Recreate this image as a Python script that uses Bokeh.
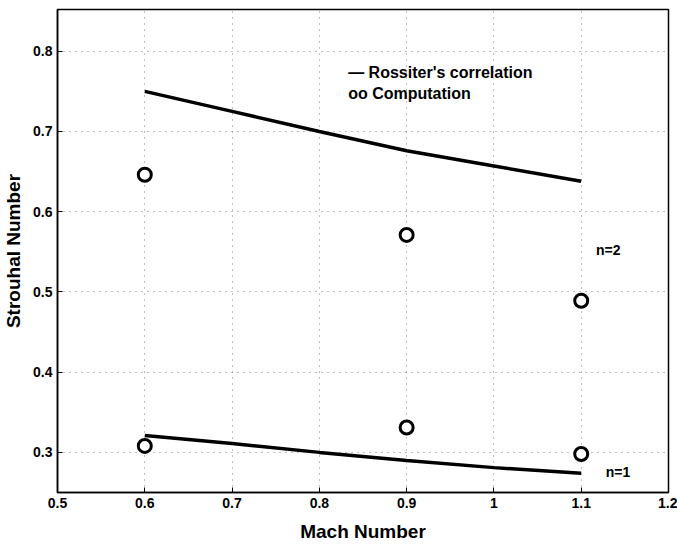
from bokeh.plotting import figure
from bokeh.models import Range1d, FixedTicker
from bokeh.core.properties import value
from bokeh.embed import file_html
from bokeh.resources import INLINE

# Rossiter's correlation
mach_line = [0.6, 0.7, 0.8, 0.9, 1.0, 1.1]
rossiter_n2 = [0.750, 0.725, 0.700, 0.676, 0.657, 0.638]
rossiter_n1 = [0.321, 0.311, 0.300, 0.290, 0.281, 0.274]

# Computation
mach_pts = [0.6, 0.9, 1.1]
comp_n2 = [0.646, 0.571, 0.489]
comp_n1 = [0.308, 0.331, 0.298]

x_ticks = [0.5, 0.6, 0.7, 0.8, 0.9, 1.0, 1.1, 1.2]
x_tick_labels = {0.5: "0.5", 0.6: "0.6", 0.7: "0.7", 0.8: "0.8", 0.9: "0.9", 1.0: "1", 1.1: "1.1", 1.2: "1.2"}
y_ticks = [0.3, 0.4, 0.5, 0.6, 0.7, 0.8]

FONT = "Liberation Sans"

p = figure(width=677, height=548, output_backend="svg", toolbar_location=None,
           x_range=Range1d(0.5, 1.2), y_range=Range1d(0.25, 0.852),
           min_border_left=54, min_border_right=9, min_border_top=9, min_border_bottom=56)
p.background_fill_color = "white"
p.border_fill_color = "white"
p.outline_line_color = "black"
p.outline_line_width = 1.5

xax = p.below[0]
yax = p.left[0]
xax.ticker = FixedTicker(ticks=x_ticks)
xax.major_label_overrides = x_tick_labels
yax.ticker = FixedTicker(ticks=y_ticks)
for ax in (xax, yax):
    ax.major_label_text_font = FONT
    ax.major_label_text_font_style = "bold"
    ax.major_label_text_font_size = "14px"
    ax.major_label_text_color = "black"
    ax.axis_line_color = "black"
    ax.axis_line_width = 1.5
    ax.major_tick_in = 5
    ax.major_tick_out = 0
    ax.minor_tick_line_color = None
    ax.axis_label_text_font = FONT
    ax.axis_label_text_font_style = "bold"
    ax.axis_label_text_font_size = "19px"
    ax.axis_label_text_color = "black"
xax.axis_label = "Mach Number"
yax.axis_label = "Strouhal Number"
xax.major_label_standoff = 5
yax.major_label_standoff = 5
xax.axis_label_standoff = 10
yax.axis_label_standoff = 6

for g in (p.xgrid, p.ygrid):
    g.grid_line_color = "black"
    g.grid_line_alpha = 0.5
    g.grid_line_dash = "1 5"
    g.grid_line_width = 1

p.line(mach_line, rossiter_n2, line_color="black", line_width=3.5)
p.line(mach_line, rossiter_n1, line_color="black", line_width=3.5)
p.scatter(mach_pts, comp_n2, marker="circle", size=13, fill_color="white",
          line_color="black", line_width=3)
p.scatter(mach_pts, comp_n1, marker="circle", size=13, fill_color="white",
          line_color="black", line_width=3)

p.text(x=[0.833, 0.833], y=[0.773, 0.747],
       text=["\u2014 Rossiter's correlation", "oo Computation"],
       text_font=value(FONT), text_font_style="bold", text_font_size="16px",
       text_baseline="middle", text_align="left", text_color="black")
p.text(x=[1.117, 1.128], y=[0.552, 0.275], text=["n=2", "n=1"],
       text_font=value(FONT), text_font_style="bold", text_font_size="14px",
       text_baseline="middle", text_align="left", text_color="black")

open("out.html", "w").write(file_html(p, INLINE))
